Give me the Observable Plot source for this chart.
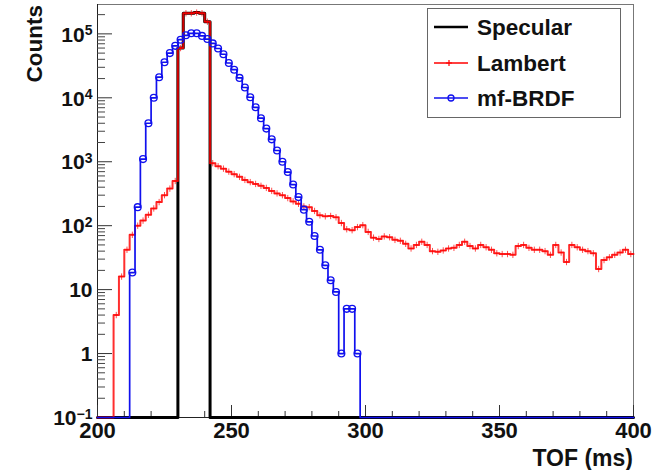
<!DOCTYPE html>
<html>
<head>
<meta charset="utf-8">
<script src="https://cdn.jsdelivr.net/npm/d3@7"></script>
<script src="https://cdn.jsdelivr.net/npm/@observablehq/plot@0.6"></script>
<style>
  html, body { margin: 0; padding: 0; background: #fff; }
  #wrap { position: relative; width: 658px; height: 470px; }
  #legend { position: absolute; left: 427px; top: 8px; width: 192px; height: 108px;
            border: 1px solid #666; background: #fff; }
</style>
</head>
<body>
<div id="wrap"></div>
<script>
// ---- Data (TOF histogram, 2 ms bins, counts) ----
const binWidth = 2;
const xDomain = [200, 400];

const specularStart = 230;
const specularCounts = [6.0e4, 2.1e5, 2.1e5, 2.15e5, 2.1e5, 1.55e5];

const lambertStart = 206;
const lambertCounts = [
  4, 16, 42, 72, 100, 120, 148, 186, 234, 300, 380, 500,
  6.0e4, 2.1e5, 2.1e5, 2.15e5, 2.1e5, 1.55e5,
  950, 850, 780, 700, 640, 580, 520, 480, 450, 420,
  390, 350, 320, 300, 270, 240, 220, 200, 195, 170,
  145, 140, 142, 135, 110, 88, 85, 95, 102, 80,
  65, 62, 68, 66, 60, 58, 52, 44, 50, 56,
  50, 40, 39, 41, 44, 45, 50, 56, 48, 44,
  50, 46, 42, 37, 36, 36, 35, 48, 50, 45,
  42, 42, 40, 35, 50, 38, 27, 50, 46, 42,
  40, 37, 21, 29, 32, 35, 38, 42, 36
];

const brdfStart = 212;
const brdfCounts = [
  18.5, 195, 1100, 4000, 1.0e4, 2.1e4, 3.6e4, 5.0e4, 6.5e4, 8.1e4,
  9.5e4, 1.02e5, 1.02e5, 9.3e4, 8.3e4, 7.1e4, 5.9e4, 4.8e4, 3.5e4, 2.75e4,
  2.05e4, 1.45e4, 1.02e4, 7100, 4800, 3300, 2240, 1500, 1000, 690,
  440, 280, 178, 115, 69, 42, 24, 14, 9.2, 1,
  5, 5, 1
];

const seriesNames = ["Specular", "Lambert", "mf-BRDF"];
const seriesColors = ["#000000", "#ff0000", "#1010ee"];

const xTicks = [200, 250, 300, 350, 400];
const yTicks = [0.1, 1, 10, 100, 1e3, 1e4, 1e5];
const yTickLabels = ["10^\u22121", "1", "10", "10^2", "10^3", "10^4", "10^5"];
const yMin = 0.1, yMax = 2.88e5;

// ---- Build histograms ----
const edges = d3.range(xDomain[0], xDomain[1], binWidth);
function hist(start, counts) {
  return edges.map(e => {
    const i = Math.round((e - start) / binWidth);
    return {x0: e, xc: e + binWidth / 2, v: (i >= 0 && i < counts.length) ? counts[i] : 0};
  });
}
function stepPts(h) {
  const pts = h.map(d => ({x: d.x0, y: Math.max(d.v, yMin)}));
  pts.push({x: xDomain[1], y: Math.max(h[h.length - 1].v, yMin)});
  return pts;
}
const spec = hist(specularStart, specularCounts);
const lamb = hist(lambertStart, lambertCounts);
const brdf = hist(brdfStart, brdfCounts);

// minor ticks
const xMinor = d3.range(xDomain[0], xDomain[1] + 1, 10).filter(v => v % 50 !== 0);
const yMinor = [];
for (let p = -1; p <= 5; p++) for (let k = 2; k <= 9; k++) {
  const v = k * Math.pow(10, p);
  if (v < yMax) yMinor.push(v);
}

const W = 658, H = 470, mL = 97, mR = 25, mT = 4, mB = 53;
const plotW = W - mL - mR, plotH = H - mT - mB;
const font = "'Liberation Sans', Arial, Helvetica, sans-serif";

const chart = Plot.plot({
  width: W, height: H,
  marginLeft: mL, marginRight: mR, marginTop: mT, marginBottom: mB,
  x: {domain: xDomain},
  y: {type: "log", domain: [yMin, yMax]},
  style: {background: "white", fontFamily: font, overflow: "visible"},
  marks: [
    Plot.frame({stroke: "#777", strokeWidth: 1}),
    Plot.ruleX([xDomain[0]], {stroke: "#222"}),
    Plot.ruleY([yMin], {stroke: "#222"}),
    Plot.ruleX(xMinor, {x: d => d, insetTop: plotH - 6, stroke: "#333"}),
    Plot.ruleX(xTicks, {x: d => d, insetTop: plotH - 12, stroke: "#333"}),
    Plot.ruleY(yMinor, {y: d => d, insetRight: plotW - 8, stroke: "#444"}),
    Plot.ruleY(yTicks, {y: d => d, insetRight: plotW - 15, stroke: "#333"}),
    Plot.line(stepPts(spec), {x: "x", y: "y", curve: "step-after", stroke: seriesColors[0], strokeWidth: 3}),
    Plot.line(stepPts(lamb), {x: "x", y: "y", curve: "step-after", stroke: seriesColors[1], strokeWidth: 2, strokeOpacity: 0.82}),
    Plot.dot(lamb.filter(d => d.v > 0), {x: "xc", y: "v", symbol: "plus", r: 2.2, stroke: seriesColors[1], strokeOpacity: 0.7, strokeWidth: 1}),
    Plot.line(stepPts(brdf), {x: "x", y: "y", curve: "step-after", stroke: seriesColors[2], strokeWidth: 1.7}),
    Plot.dot(brdf.filter(d => d.v > 0), {x: "xc", y: "v", r: 3.4, stroke: seriesColors[2], fill: "none", strokeWidth: 1.3}),
    Plot.axisX({ticks: xTicks, tickSize: 0, tickPadding: 5, tickFormat: d => String(d),
                fontSize: 22, fontWeight: "bold", fill: "#111", label: null}),
    Plot.axisY({ticks: yTicks, tickSize: 0, tickPadding: 5, tickFormat: d => yTickLabels[yTicks.indexOf(d)],
                fontSize: 21, fontWeight: "bold", fill: "#111", label: null, dy: 1})
  ]
});

document.getElementById("wrap").appendChild(chart);

// superscripts in y tick labels
const svgNS = "http://www.w3.org/2000/svg";
chart.querySelectorAll('g[aria-label="y-axis tick label"] text').forEach(t => {
  const s = t.textContent;
  if (s.includes("^")) {
    const [base, exp] = s.split("^");
    t.textContent = base;
    const ts = document.createElementNS(svgNS, "tspan");
    ts.setAttribute("dy", "-0.48em");
    ts.setAttribute("font-size", "14");
    ts.textContent = exp;
    t.appendChild(ts);
  }
});

// axis titles
const yTitle = document.createElementNS(svgNS, "text");
yTitle.setAttribute("transform", "translate(42,5) rotate(-90)");
yTitle.setAttribute("text-anchor", "end");
yTitle.setAttribute("font-size", "22.5");
yTitle.setAttribute("font-weight", "bold");
yTitle.setAttribute("font-family", font);
yTitle.setAttribute("fill", "#111");
yTitle.textContent = "Counts";
chart.appendChild(yTitle);

const xTitle = document.createElementNS(svgNS, "text");
xTitle.setAttribute("x", W - mR);
xTitle.setAttribute("y", 466);
xTitle.setAttribute("text-anchor", "end");
xTitle.setAttribute("font-size", "23");
xTitle.setAttribute("font-weight", "bold");
xTitle.setAttribute("font-family", font);
xTitle.setAttribute("fill", "#111");
xTitle.textContent = "TOF (ms)";
chart.appendChild(xTitle);

// legend (overlay)
const leg = document.createElement("div");
leg.id = "legend";
const rowsY = [18, 54, 89];
let inner = `<svg width="192" height="108" style="display:block;font-family:${font}">`;
seriesNames.forEach((name, i) => {
  const y = rowsY[i];
  inner += `<line x1="6" x2="40" y1="${y}" y2="${y}" stroke="${seriesColors[i]}" stroke-width="${i === 0 ? 2.5 : 1.4}"/>`;
  if (i === 1) inner += `<path d="M21,${y-3}V${y+3}M18,${y}H24" stroke="${seriesColors[i]}" stroke-width="1.2"/>`;
  if (i === 2) inner += `<circle cx="23" cy="${y}" r="3" fill="none" stroke="${seriesColors[i]}" stroke-width="1.3"/>`;
  inner += `<text x="49" y="${y}" dy="0.36em" font-size="22.5" font-weight="bold" fill="#111">${name}</text>`;
});
inner += `</svg>`;
leg.innerHTML = inner;
document.getElementById("wrap").appendChild(leg);
</script>
</body>
</html>
